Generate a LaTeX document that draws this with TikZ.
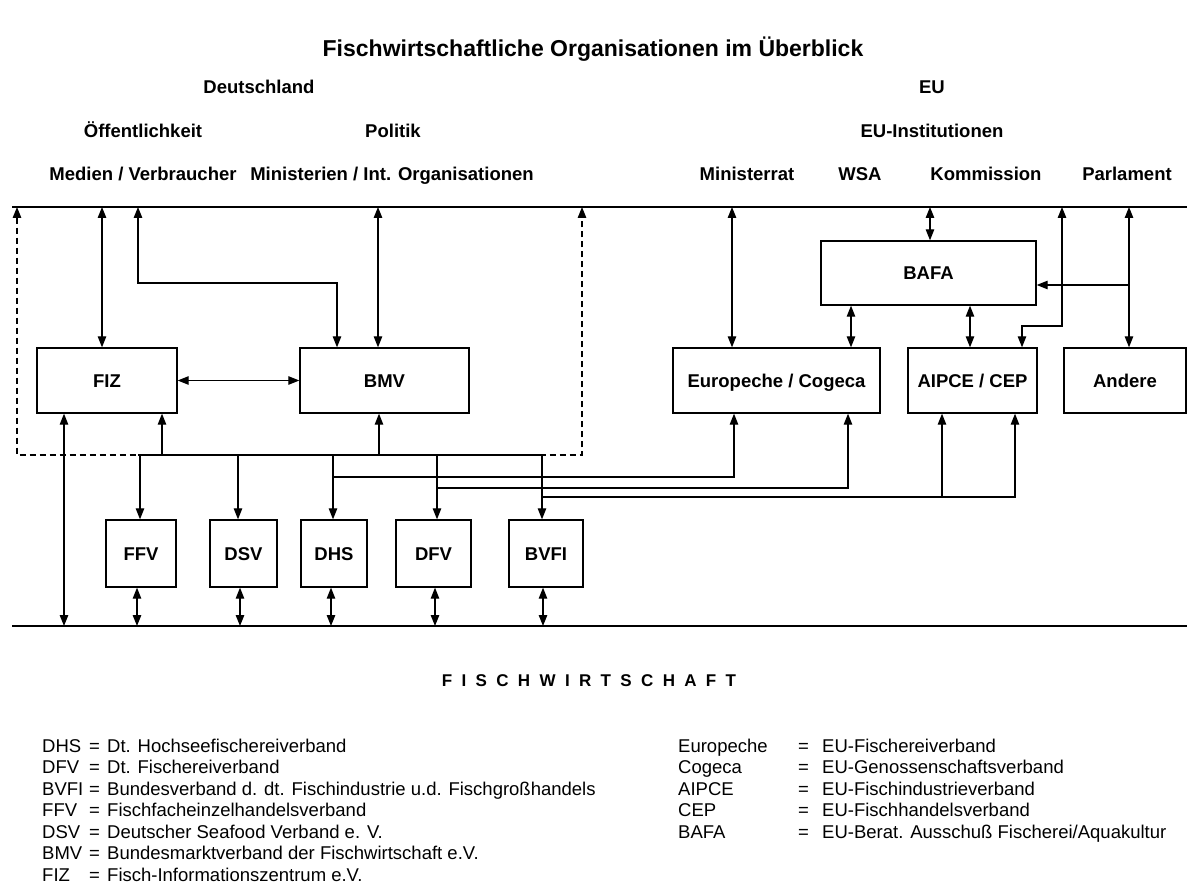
\documentclass[tikz,border=0pt]{standalone}
\usepackage{fontspec}
\setmainfont{Liberation Sans}
\usetikzlibrary{arrows.meta}

\tikzset{
  org/.style={draw, line width=1.4pt, minimum height=65pt, inner sep=0pt, text height=13.2pt, text depth=0pt, font=\bfseries\fontsize{18.5}{22}\selectfont},
  head/.style={inner sep=0pt, text height=13.2pt, text depth=0pt, font=\bfseries\fontsize{18.5}{22}\selectfont},
  legend/.style={inner sep=0pt, anchor=base west, font=\fontsize{18.5}{22}\selectfont},
  link/.style={line width=1.2pt, -{Triangle[length=11pt,width=8.5pt]}},
  both/.style={line width=1.2pt, {Triangle[length=11pt,width=8.5pt]}-{Triangle[length=11pt,width=8.5pt]}},
}

\begin{document}
\begin{tikzpicture}[x=1pt, y=-1pt]
\useasboundingbox (0,0) rectangle (1187,885);

\node[head, text height=16.5pt, font=\bfseries\fontsize{23}{28}\selectfont] (title) at (593,48) {Fischwirtschaftliche Organisationen im Überblick};
\node[head] (de) at (259,87) {Deutschland};
\node[head] (eu) at (932,87) {EU};
\node[head] (oeff) at (143,131) {Öffentlichkeit};
\node[head] (politik) at (393,131) {Politik};
\node[head] (euinst) at (932,131) {EU-Institutionen};
\node[head] (medien) at (143,174) {Medien / Verbraucher};
\node[head] (minist) at (392,174) {Ministerien / Int. Organisationen};
\node[head] (rat) at (747,174) {Ministerrat};
\node[head] (wsa) at (860,174) {WSA};
\node[head] (komm) at (986,174) {Kommission};
\node[head] (parl) at (1127,174) {Parlament};

\coordinate (top) at (0,207);
\coordinate (bottom) at (0,626);
\coordinate (bus) at (0,455);
\draw[line width=2pt] (12,207) -- (1187,207);
\draw[line width=2.6pt] (12,626) -- (1187,626);

\node[org, minimum width=140pt] (fiz) at (107,380.5) {FIZ};
\node[org, minimum width=169pt] (bmv) at (384.5,380.5) {BMV};
\node[org, minimum width=207pt] (europeche) at (776.5,380.5) {Europeche / Cogeca};
\node[org, minimum width=129pt] (aipce) at (972.5,380.5) {AIPCE / CEP};
\node[org, minimum width=122pt] (andere) at (1125,380.5) {Andere};
\node[org, minimum width=215pt, minimum height=64pt] (bafa) at (928.5,273) {BAFA};
\foreach \name/\x/\w/\txt in {ffv/141/70/FFV, dsv/243.5/67/DSV, dhs/334/66/DHS, dfv/433.5/75/DFV, bvfi/546/74/BVFI}
  \node[org, minimum width=\w pt, minimum height=67pt] (\name) at (\x,553.5) {\txt};

\coordinate (dashL) at (17,455);
\coordinate (dashR) at (582,455);
\draw[both, dash pattern=on 6pt off 4pt] (dashL |- top) -- (dashL) -- (dashR) -- (dashR |- top);

\draw[line width=1.2pt] ([xshift=-3pt]ffv.north |- bus) -- ([xshift=-4pt]bvfi.north |- bus);
\foreach \name/\s in {ffv/-1, dsv/-5.5, dhs/-1, dfv/3.5, bvfi/-4}
  \draw[link] ([xshift=\s pt]\name.north |- bus) -- ([xshift=\s pt]\name.north);
\foreach \name/\s in {ffv/-4, dsv/-3.5, dhs/-3, dfv/1.5, bvfi/-3}
  \draw[both] ([xshift=\s pt]\name.south) -- ([xshift=\s pt]\name.south |- bottom);
\draw[link] ([xshift=55pt]fiz.south |- bus) -- ([xshift=55pt]fiz.south);
\draw[link] ([xshift=-5.5pt]bmv.south |- bus) -- ([xshift=-5.5pt]bmv.south);
\draw[both] ([xshift=-43pt]fiz.south) -- ([xshift=-43pt]fiz.south |- bottom);

\draw[both] ([xshift=-5pt]fiz.north) -- ([xshift=-5pt]fiz.north |- top);
\draw[both] ([xshift=-6.5pt]bmv.north) -- ([xshift=-6.5pt]bmv.north |- top);
\coordinate (knee1) at (138,283);
\draw[both] (knee1 |- top) -- (knee1) -| ([xshift=-47.5pt]bmv.north);
\draw[both] (fiz.east) -- (bmv.west);

\draw[both] ([xshift=-44.5pt]europeche.north) -- ([xshift=-44.5pt]europeche.north |- top);
\draw[both] ([xshift=1.5pt]bafa.north) -- ([xshift=1.5pt]bafa.north |- top);
\draw[both] ([xshift=-77.5pt]bafa.south) -- ([xshift=-77.5pt]bafa.south |- europeche.north);
\draw[both] ([xshift=41.5pt]bafa.south) -- ([xshift=41.5pt]bafa.south |- aipce.north);
\coordinate (knee2) at (1062,326);
\draw[both] (knee2 |- top) -- (knee2) -| ([xshift=49.5pt]aipce.north);
\draw[both] ([xshift=4pt]andere.north) -- ([xshift=4pt]andere.north |- top);
\coordinate (fork) at (1129,285);
\draw[link] (fork) -- (fork -| bafa.east);

\coordinate (j1) at (333,477);
\coordinate (j2) at (437,488);
\coordinate (j3) at (542,497);
\draw[link] (j1) -| ([xshift=-42.5pt]europeche.south);
\draw[link] (j2) -| ([xshift=71.5pt]europeche.south);
\draw[link] (j3) -| ([xshift=42.5pt]aipce.south);
\draw[link] ([xshift=-30.5pt]aipce.south |- j3) -- ([xshift=-30.5pt]aipce.south);

\node[inner sep=0pt, font=\bfseries\fontsize{17}{20}\selectfont\addfontfeature{LetterSpace=55}] (fw) at (589,681) {FISCHWIRTSCHAFT};

\foreach \abk/\txt [count=\i] in {DHS/Dt. Hochseefischereiverband, DFV/Dt. Fischereiverband, BVFI/Bundesverband d. dt. Fischindustrie u.d. Fischgroßhandels, FFV/Fischfacheinzelhandelsverband, DSV/Deutscher Seafood Verband e. V., BMV/Bundesmarktverband der Fischwirtschaft e.V., FIZ/Fisch-Informationszentrum e.V.}
{
  \node[legend] (abk-\i) at (42,{730.5+21.5*\i}) {\abk};
  \node[legend] (eq-\i) at (89,{730.5+21.5*\i}) {=};
  \node[legend] (txt-\i) at (107,{730.5+21.5*\i}) {\txt};
}
\foreach \abk/\txt [count=\i] in {Europeche/EU-Fischereiverband, Cogeca/EU-Genossenschaftsverband, AIPCE/EU-Fischindustrieverband, CEP/EU-Fischhandelsverband, BAFA/{EU-Berat. Ausschuß Fischerei/Aquakultur}}
{
  \node[legend] (eabk-\i) at (678,{730.5+21.5*\i}) {\abk};
  \node[legend] (eeq-\i) at (798,{730.5+21.5*\i}) {=};
  \node[legend] (etxt-\i) at (822,{730.5+21.5*\i}) {\txt};
}
\end{tikzpicture}
\end{document}
